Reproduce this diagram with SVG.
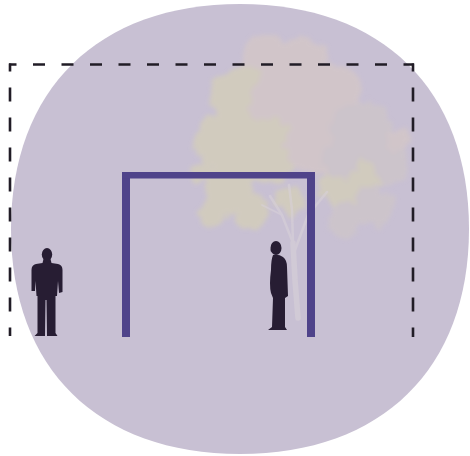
<svg xmlns="http://www.w3.org/2000/svg" width="470" height="456" viewBox="0 0 470 456">
  <defs>
    <style>
      .dash { fill: none; stroke: #211c26; stroke-width: 2.6; }
      .post { fill: #4f438a; }
      .figure { fill: #271d33; }
      .leaf-y { fill: #d9d4ae; }
      .leaf-p { fill: #d9cac2; }
      .leaf-g { fill: #d0c8c5; }
      .branch { fill: none; stroke: #d8d1d8; stroke-linecap: round; }
    </style>
    <!-- ragged, soft foliage edge -->
    <filter id="foliage" x="-20%" y="-20%" width="140%" height="140%">
      <feTurbulence type="fractalNoise" baseFrequency="0.09" numOctaves="2" seed="4" result="noise"/>
      <feDisplacementMap in="SourceGraphic" in2="noise" scale="16" xChannelSelector="R" yChannelSelector="G" result="ragged"/>
      <feGaussianBlur in="ragged" stdDeviation="2"/>
    </filter>
  </defs>

  <!-- lavender backdrop disc -->
  <g id="backdrop">
    <path d="M240,4 C382,4 469,89.5 469,229 C469,368.5 382,454 240,454 C98,454 11,368.5 11,229 C11,89.5 98,4 240,4 Z" fill="#c8c0d3"/>
  </g>

  <!-- faded tree behind the frame -->
  <g id="tree">
    <g filter="url(#foliage)" opacity="0.55">
      <circle class="leaf-p" cx="268" cy="64" r="28"/>
      <circle class="leaf-p" cx="302" cy="60" r="25"/>
      <circle class="leaf-y" cx="242" cy="98" r="32"/>
      <circle class="leaf-p" cx="288" cy="102" r="38"/>
      <circle class="leaf-p" cx="333" cy="94" r="30"/>
      <circle class="leaf-y" cx="222" cy="142" r="27"/>
      <circle class="leaf-y" cx="266" cy="150" r="32"/>
      <circle class="leaf-p" cx="318" cy="142" r="32"/>
      <circle class="leaf-g" cx="362" cy="132" r="31"/>
      <circle class="leaf-g" cx="388" cy="165" r="20"/>
      <circle class="leaf-y" cx="350" cy="185" r="30"/>
      <circle class="leaf-y" cx="228" cy="188" r="24"/>
      <circle class="leaf-y" cx="212" cy="212" r="14"/>
      <circle class="leaf-y" cx="250" cy="210" r="18"/>
      <circle class="leaf-g" cx="345" cy="220" r="17"/>
      <circle class="leaf-g" cx="374" cy="206" r="20"/>
      <circle class="leaf-y" cx="202" cy="172" r="11"/>
      <circle class="leaf-y" cx="290" cy="200" r="14"/>
      <circle class="leaf-p" cx="398" cy="140" r="12"/>
      <circle class="leaf-p" cx="312" cy="80" r="20"/>
      <circle class="leaf-y" cx="248" cy="168" r="16"/>
      <circle class="leaf-g" cx="340" cy="160" r="18"/>
    </g>
    <g opacity="0.6">
      <path class="branch" stroke-width="5.5" d="M298,318 L295,280 L293,243"/>
      <path class="branch" stroke-width="2.5" d="M293,243 L282,215 L270,196"/>
      <path class="branch" stroke-width="2.5" d="M293,243 L292,210 L289,185"/>
      <path class="branch" stroke-width="2.5" d="M295,250 L308,215 L327,192"/>
      <path class="branch" stroke-width="1.8" d="M282,215 L262,205"/>
    </g>
  </g>

  <!-- dashed outline of the space -->
  <g id="outline">
    <line class="dash" x1="9" y1="64.5" x2="414" y2="64.5" stroke-dasharray="12 16.5" stroke-dashoffset="4.5"/>
    <line class="dash" x1="10" y1="63.5" x2="10" y2="336" stroke-dasharray="14 16" stroke-dashoffset="6"/>
    <line class="dash" x1="413" y1="63.5" x2="413" y2="337" stroke-dasharray="14 16" stroke-dashoffset="6"/>
  </g>

  <!-- portal frame -->
  <g id="frame">
    <rect class="post" x="122" y="172" width="8" height="165"/>
    <rect class="post" x="307" y="172" width="8" height="165"/>
    <rect class="post" x="122" y="172" width="193" height="6.5"/>
  </g>

  <!-- standing figure, front view -->
  <g id="person-left">
    <ellipse class="figure" cx="47" cy="254.5" rx="5.2" ry="6.5"/>
    <path class="figure" d="M43.5,259 L50.5,259 L51.5,263 L58,264 Q62.5,265 62.5,270 L62.5,292 L59,293 L58,281 L57,296 L55.5,296 L55.5,333 L57.5,336 L47,336 L46.5,300 L45.5,300 L45,336 L34.5,336 L37.5,333 L37.5,296 L36.5,296 L35.5,281 L35,291 L31.5,291 L31.5,270 Q31.5,265 36,264 L42.5,263 Z"/>
  </g>

  <!-- standing figure, side view -->
  <g id="person-right">
    <ellipse class="figure" cx="276" cy="248" rx="5.5" ry="7"/>
    <path class="figure" d="M270.5,249 L272,251 L271,252 Z"/>
    <path class="figure" d="M273,255 Q279,254 283,257 Q287,260 287,267 L288,296 L285,298 L285,327 L287,330 L268,330 L272,327 L273,298 L271,293 Q269,285 271,270 Q271,260 273,255 Z"/>
  </g>
</svg>
